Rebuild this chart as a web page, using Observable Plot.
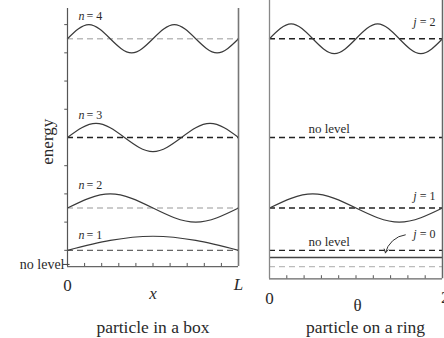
<!DOCTYPE html>
<html><head><meta charset="utf-8">
<script src="https://cdn.jsdelivr.net/npm/d3@7"></script>
<script src="https://cdn.jsdelivr.net/npm/@observablehq/plot@0.6"></script>
<style>
body{margin:0;background:#fff;}
#c{display:flex;width:444px;height:338px;overflow:hidden;background:#fff;}
</style></head><body><div id="c"></div>
<script>
// ---- data (energy in units of the n=1 box level; x as fraction of L or of 2π) ----
const boxN = [1, 2, 3, 4];
const boxLevels = [1, 4, 9, 16];
const box1X = [0, 0.25, 0.5, 0.75, 1];
const box1E = [1, 1.7, 2, 1.7, 1];
const box2X = [0, 0.25, 0.5, 0.75, 1];
const box2E = [4, 5, 4, 3, 4];
const box3X = [0, 1/6, 2/6, 3/6, 4/6, 5/6, 1];
const box3E = [9, 10, 9, 8, 9, 10, 9];
const box4X = [0, 1/8, 2/8, 3/8, 4/8, 5/8, 6/8, 7/8, 1];
const box4E = [16, 17, 16, 15, 16, 17, 16, 15, 16];
const boxNoLevel = 0;
const boxXTicks = [0.1, 0.2, 0.3, 0.4, 0.5, 0.6, 0.7, 0.8, 0.9];
const boxYTicks = [1, 3, 5, 7, 11, 13, 15, 17];
const boxXLabels = ["0", "x", "L"];

const ringJ = [0, 1, 2];
const ringLevels = [0.5, 4, 16];
const ringNoLevels = [1, 9];
const ringZero = -0.15;
const ring1X = [0, 0.25, 0.5, 0.75, 1];
const ring1E = [4, 5, 4, 3, 4];
const ring2X = [0, 1/8, 2/8, 3/8, 4/8, 5/8, 6/8, 7/8, 1];
const ring2E = [16, 17.05, 16, 14.95, 16, 17.05, 16, 14.95, 16];
const ringXTicks = [0.1, 0.2, 0.3, 0.4, 0.5, 0.6, 0.7, 0.8, 0.9];
const ringXLabels = ["0", "θ", "2π"];

// ---- drawing ----
const Y = [-5.25, 18.71];
const FONT = "Liberation Serif, Times New Roman, serif";
const INK = "#2a2a2a";
const pts = (xs, es) => xs.map((x, i) => ({x, e: es[i]}));
const dash = "6,4";

const boxLevelStroke = ["#666", "#bbb", "#222", "#bbb"];
const boxLabelE = [2.1, 5.6, 10.6, 17.6];
const boxWaves = [pts(box1X, box1E), pts(box2X, box2E), pts(box3X, box3E), pts(box4X, box4E)];
const boxBottom = -0.15, boxTop = 18.14;

const left = Plot.plot({
  width: 254, height: 338, marginLeft: 67, marginRight: 16, marginTop: 0, marginBottom: 0,
  x: {domain: [0, 1], axis: null}, y: {domain: Y, axis: null},
  style: {fontFamily: FONT, background: "white", overflow: "visible"},
  marks: [
    ...boxLevels.map((e, i) => Plot.ruleY([e], {x1: 0, x2: 1, stroke: boxLevelStroke[i], strokeWidth: 1.3, strokeDasharray: dash})),
    ...boxWaves.map(w => Plot.line(w, {x: "x", y: "e", curve: "natural", stroke: "#3a3a3a", strokeWidth: 1.2})),
    Plot.ruleX([0], {y1: boxBottom, y2: boxTop, stroke: "#555", strokeWidth: 1.2}),
    Plot.ruleX([1], {y1: boxBottom, y2: boxTop, stroke: "#777", strokeWidth: 1.6}),
    Plot.ruleY([boxBottom], {x1: 0, x2: 1, stroke: "#666", strokeWidth: 1.3}),
    Plot.ruleX(boxXTicks, {y1: boxBottom, y2: boxBottom + 0.22, stroke: "#555"}),
    Plot.ruleY(boxYTicks, {x1: -0.016, x2: 0, stroke: "#555"}),
    Plot.ruleY([boxNoLevel], {x1: -0.025, x2: 0.015, stroke: "#444"}),
    Plot.text(["no level"], {x: 0, y: boxNoLevel, text: d => d, dx: -3, textAnchor: "end", fontSize: 14, fill: INK}),
    Plot.text(["energy"], {x: -0.117, y: 8.7, text: d => d, rotate: -90, fontSize: 17, fill: INK}),
    Plot.text(boxN, {x: 0.064, y: (d, i) => boxLabelE[i], text: () => "n", textAnchor: "start", fontStyle: "italic", fontSize: 12, fill: INK}),
    Plot.text(boxN, {x: 0.064, y: (d, i) => boxLabelE[i], text: d => "= " + d, dx: 8, textAnchor: "start", fontSize: 12, fill: INK}),
    Plot.text([boxXLabels[0]], {x: 0, y: -1.52, text: d => d, fontSize: 17, fill: INK}),
    Plot.text([boxXLabels[1]], {x: 0.5, y: -2.09, text: d => d, fontSize: 17, fontStyle: "italic", fill: INK}),
    Plot.text([boxXLabels[2]], {x: 1, y: -1.45, text: d => d, fontSize: 17, fontStyle: "italic", fill: INK}),
    Plot.text(["particle in a box"], {x: 0.5, y: -4.45, text: d => d, fontSize: 17.5, fill: INK})
  ]
});

const ringWaves = [pts(ring1X, ring1E), pts(ring2X, ring2E)];
const ringBottom = -1.02, ringTop = 18.71;
const ringLabelE = [2.16, 4.87, 17.15];

const right = Plot.plot({
  width: 190, height: 338, marginLeft: 15, marginRight: 2, marginTop: 0, marginBottom: 0,
  x: {domain: [0, 1], axis: null}, y: {domain: Y, axis: null},
  style: {fontFamily: FONT, background: "white", overflow: "visible"},
  marks: [
    Plot.ruleY([ringZero], {x1: 0, x2: 1, stroke: "#bbb", strokeWidth: 1.3, strokeDasharray: dash}),
    Plot.ruleY([ringLevels[0]], {x1: 0, x2: 1, stroke: "#444", strokeWidth: 1.5}),
    Plot.ruleY(ringNoLevels, {x1: 0, x2: 1, stroke: "#222", strokeWidth: 1.3, strokeDasharray: dash}),
    Plot.ruleY(ringLevels.slice(1), {x1: 0, x2: 1, stroke: "#222", strokeWidth: 1.3, strokeDasharray: dash}),
    ...ringWaves.map(w => Plot.line(w, {x: "x", y: "e", curve: "natural", stroke: "#3a3a3a", strokeWidth: 1.2})),
    Plot.ruleX([0], {y1: ringBottom, y2: ringTop, stroke: "#888", strokeWidth: 1.3}),
    Plot.ruleX([1], {y1: ringBottom, y2: ringTop, stroke: "#666", strokeWidth: 1.5}),
    Plot.ruleY([ringBottom], {x1: 0, x2: 1, stroke: "#666", strokeWidth: 1.3}),
    Plot.ruleX(ringXTicks, {y1: ringBottom, y2: ringBottom + 0.22, stroke: "#555"}),
    Plot.text(ringNoLevels, {x: 0.225, y: d => d + 0.6, text: () => "no level", textAnchor: "start", fontSize: 13, fill: INK}),
    Plot.text(ringJ, {x: 0.96, y: (d, i) => ringLabelE[i], text: d => "= " + d, textAnchor: "end", fontSize: 12, fill: INK}),
    Plot.text(ringJ, {x: 0.96, y: (d, i) => ringLabelE[i], text: () => "j", dx: -19, textAnchor: "end", fontStyle: "italic", fontSize: 12, fill: INK}),
    Plot.arrow([{x1: 0.785, y1: 2.1, x2: 0.67, y2: 0.82}], {x1: "x1", y1: "y1", x2: "x2", y2: "y2", bend: -35, headLength: 6, stroke: "#333", strokeWidth: 1}),
    Plot.text([ringXLabels[0]], {x: 0, y: -2.44, text: d => d, fontSize: 17, fill: INK}),
    Plot.text([ringXLabels[1]], {x: 0.509, y: -2.94, text: d => d, fontSize: 17, fill: INK}),
    Plot.text([ringXLabels[2]], {x: 1, y: -2.37, text: d => d, dx: 7, fontSize: 17, fill: INK}),
    Plot.text(["particle on a ring"], {x: 0.555, y: -4.45, text: d => d, fontSize: 17.5, fill: INK})
  ]
});

document.getElementById("c").append(left, right);
</script></body></html>
